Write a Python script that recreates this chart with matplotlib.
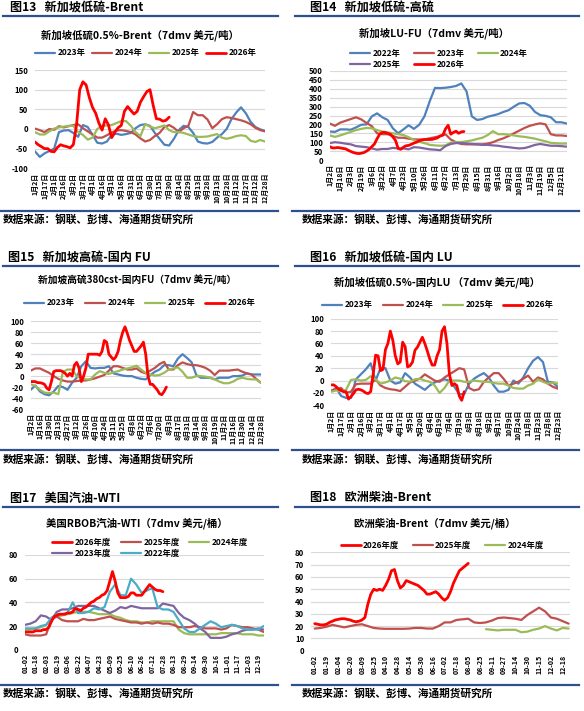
import numpy as np
import matplotlib
matplotlib.use('Agg')
import matplotlib.pyplot as plt
from matplotlib.lines import Line2D

plt.rcParams['font.family'] = ['Noto Sans CJK SC', 'DejaVu Sans']
plt.rcParams['axes.unicode_minus'] = False

# ---------------- data ----------------
# Panel 13: 新加坡低硫0.5%-Brent, full-year series every 7.5 days, 2026 every 5 days
p13_ticks = ['1月2日','1月17日','2月1日','2月16日','3月2日','3月17日','4月1日','4月16日','5月1日','5月16日',
             '5月31日','6月15日','6月30日','7月15日','7月30日','8月14日','8月29日','9月13日','9月28日',
             '10月13日','10月28日','11月12日','11月27日','12月12日','12月28日']
p13_2023 = [-57,-71,-62,-56,-50,-8,-4,-3,-10,-20,10,5,-15,-35,-37,-32,-15,-12,-15,-13,-10,2,10,12,8,
            -10,-25,-40,-42,-25,-3,8,5,-10,-32,-36,-37,-33,-22,-13,0,25,42,55,40,18,5,-1,-5]
p13_2024 = [1,-3,-8,0,-2,7,4,7,10,12,2,-6,-14,-22,-22,-16,-9,-4,-3,-5,-8,-14,-24,-32,-28,-18,-10,5,10,3,
            -8,2,8,43,35,35,24,2,12,25,30,28,25,22,18,12,3,-3,-6]
p13_2025 = [-8,-14,-14,-6,1,4,6,8,8,-8,-15,-27,-22,0,8,9,10,15,20,20,8,-8,-18,12,6,2,5,9,-3,-8,-8,-10,
            -14,-18,-20,-20,-19,-16,-13,-22,-25,-22,-18,-16,-18,-30,-33,-28,-32]
p13_2026 = [-33,-40,-45,-50,-50,-57,-58,-47,-40,-43,-45,-48,-40,10,100,120,112,80,55,40,15,-3,26,10,-22,
            -8,3,9,45,57,47,38,45,68,82,95,100,60,26,25,20,22,30]

# Panel 14: 新加坡LU-FU, full-year every 8 days, 2026 every 4 days
p14_ticks = ['1月2日','1月18日','2月3日','2月19日','3月6日','3月22日','4月7日','4月23日','5月10日','5月26日',
             '6月11日','6月27日','7月13日','7月29日','8月15日','8月31日','9月16日','10月2日','10月18日',
             '11月3日','11月19日','12月5日','12月21日']
p14_2022 = [160,158,172,172,170,183,198,200,245,262,240,225,178,150,172,195,175,198,245,330,405,404,406,
            410,416,430,385,245,225,230,243,250,258,270,280,300,318,320,305,270,252,248,240,212,212,205]
p14_2023 = [205,192,210,220,230,240,228,208,190,150,145,145,135,125,125,120,116,115,116,122,128,135,144,
            115,100,90,88,88,88,88,92,100,112,122,135,150,165,180,192,200,206,200,145,138,138,135]
p14_2024 = [138,130,138,148,158,168,175,180,178,168,160,155,150,145,140,128,112,102,95,85,82,80,82,98,100,
            101,105,110,118,125,140,162,145,145,142,138,133,130,125,120,112,105,96,94,92,92]
p14_2025 = [95,100,97,92,88,78,75,72,65,58,62,62,68,65,65,60,72,70,65,60,58,55,78,90,95,95,93,90,88,85,85,
            82,80,75,72,68,65,67,75,85,90,85,80,80,78,75]
p14_2026 = [75,68,68,70,68,65,63,55,48,42,38,36,38,42,50,60,75,90,120,145,155,155,150,145,130,110,65,60,
            72,80,82,88,95,100,108,112,115,115,115,116,120,125,135,140,175,195,145,155,162,150,158,160]

# Panel 15: 新加坡高硫380cst-国内FU, full-year every 7 days, 2026 every 3.5 days
p15_ticks = ['1月2日','1月16日','1月30日','2月13日','2月27日','3月12日','3月26日','4月10日','4月24日',
             '5月11日','5月25日','6月8日','6月22日','7月6日','7月20日','8月3日','8月17日','8月31日',
             '9月14日','9月28日','10月19日','11月2日','11月16日','11月30日','12月14日','12月28日']
p15_2023 = [-25,-17,-28,-33,-35,-28,-18,-20,-25,-12,-3,18,27,15,14,15,15,18,5,3,1,0,0,-3,-5,-6,2,8,12,
            20,20,18,32,40,33,25,2,-3,-3,-3,-6,-3,-3,-3,0,0,1,5,3,3,3]
p15_2024 = [10,14,14,10,6,0,-5,-8,-10,-10,-9,-8,-8,-6,-4,-1,2,10,18,18,15,12,12,14,8,5,10,15,22,26,12,
            12,20,25,22,20,20,18,15,10,2,10,10,10,11,12,8,5,3,-5,-12]
p15_2025 = [-15,-18,-25,-30,-31,-30,-33,8,12,12,0,-4,-6,-6,3,9,6,4,7,9,12,14,16,19,12,6,3,1,2,6,12,14,
            16,8,-3,-3,0,0,-1,-3,-6,-10,-13,-13,-10,-5,-3,-5,-6,-6,-12]
p15_2026 = [-10,-10,-10,-12,-12,-13,-15,-22,-25,-10,8,10,10,10,8,5,0,5,0,20,25,15,-10,0,15,40,40,40,40,
            40,38,45,65,62,40,35,30,35,45,65,80,90,78,65,55,45,45,50,55,62,40,0,-15,-15,-20,-25,-32,-34,
            -28,-20]

# Panel 16: 新加坡低硫0.5%-国内LU, full-year every 7.5 days, 2026 every 3.75 days
p16_ticks = ['1月2日','1月17日','2月1日','2月16日','3月2日','3月17日','4月1日','4月17日','5月5日','5月20日',
             '6月4日','6月19日','7月4日','7月19日','8月3日','8月18日','9月2日','9月17日','10月9日',
             '10月24日','11月8日','11月23日','12月8日','12月23日']
p16_2023 = [-17,-12,-25,-28,-28,2,10,18,28,0,20,20,0,-5,-3,12,5,-5,-10,-15,-8,-3,0,2,0,-10,-22,-22,-5,3,
            8,12,5,-8,-18,-18,-15,0,-5,5,20,32,38,30,-2,-3,-10]
p16_2024 = [-16,-14,-12,-20,-18,-6,-5,-5,-5,2,-8,-12,-14,-15,-17,-10,-3,0,3,10,5,0,-2,5,10,15,20,18,-12,
            -16,-14,-2,5,12,12,3,-8,-5,-2,3,8,-2,5,2,-5,-10,-13]
p16_2025 = [-18,-16,-17,-15,1,2,0,1,7,2,-5,-3,0,5,3,-1,-2,2,3,0,-2,-8,-20,-12,0,0,0,-2,-2,0,-1,-2,-2,-4,
            -5,-5,-8,-12,-13,-13,-8,-5,2,-2,-5,-3,-5]
p16_2026 = [-7,-7,-10,-14,-16,-18,-18,-30,-26,-21,-15,-14,-15,-17,-20,-21,-18,10,41,40,16,18,50,60,80,65,
            40,27,30,62,55,22,24,30,49,54,62,70,60,48,35,25,25,40,50,80,87,60,10,-8,-5,-8,-25,-32,-18]

# Panel 17: 美国RBOB汽油-WTI, full-year every 8 days, 2026 every 4 days
p17_ticks = ['01-02','01-18','02-03','02-19','03-06','03-22','04-07','04-23','05-09','05-25','06-10',
             '06-26','07-12','07-28','08-13','08-29','09-14','09-30','10-16','11-01','11-17','12-03','12-19']
p17_2023 = [21,22,24,29,28,25,32,34,34,35,37,37,37,37,35,33,31,33,36,35,37,36,35,35,35,35,39,38,37,31,27,
            25,22,18,15,10,10,10,11,13,14,16,17,17,18,17]
p17_2022 = [18,18,18,20,21,27,30,30,31,40,31,31,32,35,34,36,49,55,46,46,60,55,48,50,52,36,34,34,32,25,18,
            15,15,18,21,24,22,19,20,21,20,18,17,17,17,20]
p17_2025 = [13,12,12,12,13,26,28,25,24,24,24,26,25,25,26,27,28,26,25,24,23,23,22,23,22,23,22,22,21,19,19,
            19,20,19,18,18,18,17,18,21,20,19,19,18,17,15]
p17_2024 = [17,17,18,19,21,26,28,29,30,31,32,32,32,31,30,30,30,28,27,25,24,24,23,23,24,24,24,24,24,17,14,
            13,13,13,13,13,13,14,14,14,14,13,13,13,12,12]
p17_2026 = [15,15,15,15,16,16,16,17,17,19,24,28,29,30,30,30,31,31,32,35,34,33,35,36,38,40,41,43,44,46,47,
            50,58,66,58,48,44,44,44,45,48,48,46,46,46,49,52,55,53,51,50,50,49]

# Panel 18: 欧洲柴油-Brent, per category tick: 2025/2024 every half tick, 2026 every quarter tick
p18_ticks = ['01-02','01-19','02-04','02-20','03-09','03-25','04-10','04-28','05-14','05-30','06-16',
             '07-02','07-18','08-05','08-25','09-11','09-27','10-14','10-30','11-15','12-02','12-18']
p18_2026 = [22,21.5,21,21,21.5,23,24,25,25.5,26,26,25.5,25,24,23.5,24,25,27,38,46,50,49,50,49,53,58,65,
            66,57,51,53,57,56,55,54,53,51,49,46,46,47,48,46,43,41,43,48,55,60,65,67,69,71]
p18_2025 = [18,18.5,19.5,21,20,19,20,21,21.5,20,18.5,18,17.8,17.8,17.8,17.8,18,18.5,18.5,18,18,20,23,23,
            25,25.5,26,23,22.5,23,24.5,26.5,27,26.5,26,25,29,32,35,32,27,26,24,22]
p18_2024 = [np.nan]*29 + [17.5,17,16.5,17,17,17,15,15.5,17,18,20,18,16.5,18.5,18]

# ---------------- styling ----------------
W, H = 584, 711
fig = plt.figure(figsize=(W/100, H/100), dpi=100)

C_BLUE = '#4F81BD'; C_BROWN = '#C0504D'; C_GREEN = '#9BBB59'
C_PURPLE = '#8064A2'; C_CYAN = '#4BACC6'; C_RED = '#FF0000'
HDR = '#2E5090'
FOOT = '数据来源：钢联、彭博、海通期货研究所'


def fx(px):
    return px / W


def fy(py):
    return 1 - py / H


def make_axes(ox, oy, x0, x1, y0, y1):
    return fig.add_axes([fx(ox + x0), fy(oy + y1), (x1 - x0) / W, (y1 - y0) / H])


def hline(y, x0, x1):
    fig.add_artist(Line2D([fx(x0), fx(x1)], [fy(y), fy(y)], color=HDR, lw=1.6,
                          transform=fig.transFigure))


def frame(ox, oy, header, hy, hx, line_y, fline_y, foot_y, lx0, lx1, fx0):
    fig.text(fx(ox + hx), fy(oy + hy), header, fontsize=8.7, fontweight='bold',
             va='center', ha='left')
    hline(oy + line_y, ox + lx0, ox + lx1)
    hline(oy + fline_y, ox + lx0 - 3, ox + lx1)
    fig.text(fx(ox + fx0), fy(oy + foot_y), FOOT, fontsize=7.7, fontweight='bold',
             va='center', ha='left')


def style(ax, xlim, ylim, yticks, xticks, xlabels):
    ax.set_xlim(*xlim)
    ax.set_ylim(*ylim)
    ax.set_yticks(yticks)
    ax.set_xticks(xticks)
    ax.set_xticklabels(xlabels, rotation=90, fontsize=5, fontweight='bold')
    ax.tick_params(axis='both', length=0)
    ax.tick_params(axis='y', labelsize=5.6, pad=5)
    ax.tick_params(axis='x', pad=3)
    for lab in ax.get_yticklabels():
        lab.set_fontweight('bold')
    ax.grid(axis='y', color='#D9D9D9', lw=0.8)
    ax.set_axisbelow(True)
    for s in ax.spines.values():
        s.set_visible(False)
    ax.patch.set_alpha(0)


def series(ax, vals, step, color, label, lw=1.6, z=2):
    x = np.arange(len(vals)) * step
    ax.plot(x, vals, color=color, lw=lw, label=label, zorder=z, solid_capstyle='round')


def legend(ax, order, cx, cy, ncol, colsp=0.8):
    h, l = ax.get_legend_handles_labels()
    d = dict(zip(l, h))
    ax.legend([d[k] for k in order], order, ncol=ncol, loc='center',
              bbox_to_anchor=(fx(cx), fy(cy)), bbox_transform=fig.transFigure,
              frameon=False, prop={'size': 6, 'weight': 'bold'}, handlelength=2.4,
              handletextpad=0.3, columnspacing=colsp, borderpad=0, labelspacing=0.25)


def title(ox, oy, cx, cy, text, fs=7.5):
    fig.text(fx(ox + cx), fy(oy + cy), text, fontsize=fs, fontweight='bold', ha='center', va='center')


# ---- Panel 13 ----
ox, oy = 0, 0
frame(ox, oy, '图13   新加坡低硫-Brent', 8.5, 10, 16, 211, 219, 3, 278, 3)
title(ox, oy, 140, 35, '新加坡低硫0.5%-Brent（7dmv 美元/吨）')
ax = make_axes(ox, oy, 35, 265, 70, 168.3)
series(ax, p13_2023, 7.5, C_BLUE, '2023年')
series(ax, p13_2024, 7.5, C_BROWN, '2024年')
series(ax, p13_2025, 7.5, C_GREEN, '2025年')
series(ax, p13_2026, 5, C_RED, '2026年', lw=2.0, z=3)
style(ax, (0, 360), (-100, 150), range(-100, 151, 50), np.arange(len(p13_ticks)) * 15, p13_ticks)
legend(ax, ['2023年', '2024年', '2025年', '2026年'], ox + 146, oy + 53, 4)

# ---- Panel 14 ----
ox, oy = 292, 0
frame(ox, oy, '图14   新加坡低硫-高硫', 8.5, 18, 16, 211, 219, 3, 287, 10)
title(ox, oy, 142, 33.7, '新加坡LU-FU（7dmv 美元/吨）')
ax = make_axes(ox, oy, 37.7, 274.6, 71, 160)
series(ax, p14_2022, 8, C_BLUE, '2022年')
series(ax, p14_2023, 8, C_BROWN, '2023年')
series(ax, p14_2024, 8, C_GREEN, '2024年')
series(ax, p14_2025, 8, C_PURPLE, '2025年')
series(ax, p14_2026, 4, C_RED, '2026年', lw=2.0, z=3)
style(ax, (0, 360), (0, 500), range(0, 501, 50), np.arange(len(p14_ticks)) * 16, p14_ticks)
legend(ax, ['2022年', '2025年', '2023年', '2026年', '2024年'], ox + 147, oy + 59, 3, colsp=1.6)

# ---- Panel 15 ----
ox, oy = 0, 237
frame(ox, oy, '图15   新加坡高硫-国内 FU', 21, 8, 29, 213, 222, 3, 278, 3)
title(ox, oy, 137.5, 43, '新加坡高硫380cst-国内FU（7dmv 美元/吨）', fs=7)
ax = make_axes(ox, oy, 30.7, 260.7, 84.3, 172)
series(ax, p15_2023, 7, C_BLUE, '2023年')
series(ax, p15_2024, 7, C_BROWN, '2024年')
series(ax, p15_2025, 7, C_GREEN, '2025年')
series(ax, p15_2026, 3.5, C_RED, '2026年', lw=2.0, z=3)
style(ax, (0, 350), (-60, 100), range(-60, 101, 20), np.arange(len(p15_ticks)) * 14, p15_ticks)
legend(ax, ['2023年', '2024年', '2025年', '2026年'], ox + 140, oy + 66, 4, colsp=1.2)

# ---- Panel 16 ----
ox, oy = 292, 237
frame(ox, oy, '图16   新加坡低硫-国内 LU', 21, 18, 29, 213, 222, 3, 287, 10)
title(ox, oy, 145, 45, '新加坡低硫0.5%-国内LU （7dmv 美元/吨）')
ax = make_axes(ox, oy, 39.3, 265.7, 81.7, 168.3)
series(ax, p16_2023, 7.5, C_BLUE, '2023年')
series(ax, p16_2024, 7.5, C_BROWN, '2024年')
series(ax, p16_2025, 7.5, C_GREEN, '2025年')
series(ax, p16_2026, 3.75, C_RED, '2026年', lw=2.0, z=3)
style(ax, (0, 345), (-40, 100), range(-40, 101, 20), np.arange(len(p16_ticks)) * 15, p16_ticks)
legend(ax, ['2023年', '2024年', '2025年', '2026年'], ox + 146, oy + 68, 4, colsp=1.2)

# ---- Panel 17 ----
ox, oy = 0, 474
frame(ox, oy, '图17   美国汽油-WTI', 24, 10, 32.7, 210.7, 219, 3, 278, 3)
title(ox, oy, 137, 49, '美国RBOB汽油-WTI（7dmv 美元/桶）')
ax = make_axes(ox, oy, 25, 263.6, 81, 175.7)
series(ax, p17_2024, 8, C_GREEN, '2024年度')
series(ax, p17_2025, 8, C_BROWN, '2025年度')
series(ax, p17_2023, 8, C_PURPLE, '2023年度')
series(ax, p17_2022, 8, C_CYAN, '2022年度')
series(ax, p17_2026, 4, C_RED, '2026年度', lw=2.0, z=3)
style(ax, (0, 360), (0, 80), range(0, 81, 20), np.arange(len(p17_ticks)) * 16, p17_ticks)
legend(ax, ['2026年度', '2023年度', '2025年度', '2022年度', '2024年度'], ox + 150, oy + 74, 3, colsp=1.2)

# ---- Panel 18 ----
ox, oy = 292, 474
frame(ox, oy, '图18   欧洲柴油-Brent', 24, 18, 32.7, 210.7, 219, 3, 287, 10)
title(ox, oy, 143, 49, '欧洲柴油-Brent（7dmv 美元/桶）')
ax = make_axes(ox, oy, 19.2, 277.8, 78.3, 176.7)
series(ax, p18_2025, 0.5, C_BROWN, '2025年度')
series(ax, p18_2024, 0.5, C_GREEN, '2024年度')
series(ax, p18_2026, 0.25, C_RED, '2026年度', lw=2.0, z=3)
style(ax, (-0.3, 21.6), (0, 80), range(0, 81, 10), np.arange(len(p18_ticks)), p18_ticks)
legend(ax, ['2026年度', '2025年度', '2024年度'], ox + 150, oy + 71, 3, colsp=1.6)

fig.savefig('out.png', dpi=100)
